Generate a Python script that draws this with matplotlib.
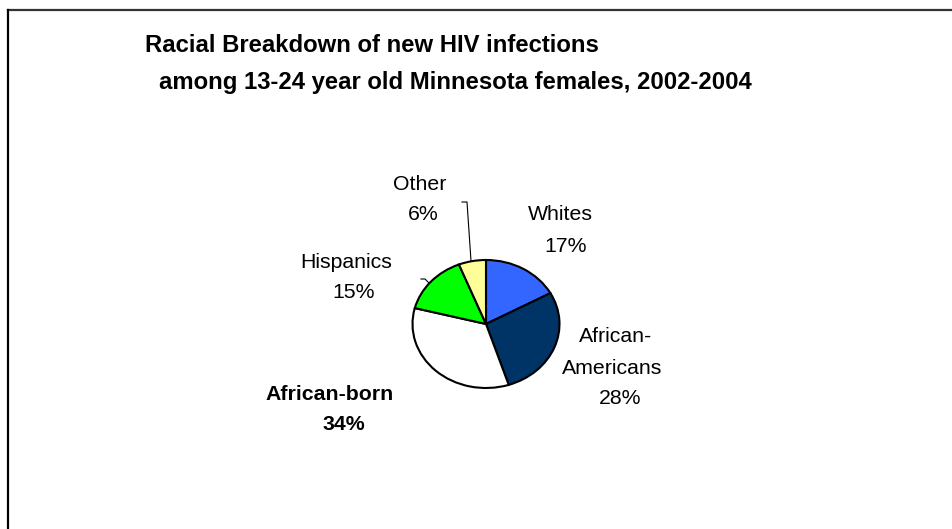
import matplotlib
matplotlib.use("Agg")
import matplotlib.pyplot as plt
from matplotlib.lines import Line2D

plt.rcParams['font.family'] = ['Liberation Sans', 'DejaVu Sans']

# ---- data ----
categories = ["Whites", "African-\nAmericans", "African-born", "Hispanics", "Other"]
values = [17, 28, 34, 15, 6]
pct_labels = ["17%", "28%", "34%", "15%", "6%"]
colors = ["#3366FF", "#003366", "#FFFFFF", "#00FF00", "#FFFF99"]
title_lines = ["Racial Breakdown of new HIV infections",
               "among 13-24 year old Minnesota females, 2002-2004"]

W, H = 952, 529
fig = plt.figure(figsize=(W / 100, H / 100), dpi=100)
fig.patch.set_facecolor("white")

def fx(x):
    return x / W

def fy(y):
    return 1 - y / H

# pie axes (elliptical pie)
cx, cy, rx, ry = 486, 324, 73.5, 64
ax = fig.add_axes([fx(cx - rx), fy(cy + ry), 2 * rx / W, 2 * ry / H])
ax.pie(values, colors=colors, startangle=90, counterclock=False,
       wedgeprops=dict(edgecolor="black", linewidth=1.5))
ax.set_aspect("auto")
ax.set_xlim(-1, 1)
ax.set_ylim(-1, 1)
ax.axis("off")

# labels (name line, pct line) positions in pixels
label_pos = {
    0: [(560, 215), (566, 246)],
    2: [(330, 394), (344, 424)],
    3: [(346, 262), (354, 292)],
    4: [(420, 184), (423, 215)],
}
fs = 15.3
for i, lines in label_pos.items():
    weight = "bold" if categories[i] == "African-born" else "normal"
    (nx, ny), (px, py) = lines
    fig.text(fx(nx), fy(ny), categories[i], ha="center", va="center",
             fontsize=fs, fontweight=weight)
    fig.text(fx(px), fy(py), pct_labels[i], ha="center", va="center",
             fontsize=fs, fontweight=weight)

# African-Americans label (three lines)
aa_lines = categories[1].split("\n") + [pct_labels[1]]
aa_pos = [(616, 337), (612, 368), (620, 399)]
for t, (x, y) in zip(aa_lines, aa_pos):
    fig.text(fx(x), fy(y), t, ha="center", va="center", fontsize=fs)

# title
fig.text(fx(145), fy(45), title_lines[0], ha="left", va="center",
         fontsize=17.2, fontweight="bold")
fig.text(fx(159), fy(83), title_lines[1], ha="left", va="center",
         fontsize=17.2, fontweight="bold")

# leader lines
fig.add_artist(Line2D([fx(462), fx(467), fx(471)], [fy(202), fy(202), fy(261)],
                      color="black", linewidth=0.8, transform=fig.transFigure))
fig.add_artist(Line2D([fx(421), fx(425), fx(429)], [fy(279), fy(279), fy(283)],
                      color="black", linewidth=0.8, transform=fig.transFigure))

# chart border (top and left visible)
fig.add_artist(Line2D([fx(8), fx(952)], [fy(10), fy(10)], color="#333333",
                      linewidth=1.6, transform=fig.transFigure))
fig.add_artist(Line2D([fx(8), fx(8)], [fy(10), fy(529)], color="black",
                      linewidth=1.6, transform=fig.transFigure))

fig.savefig("out.png", dpi=100, facecolor="white")
